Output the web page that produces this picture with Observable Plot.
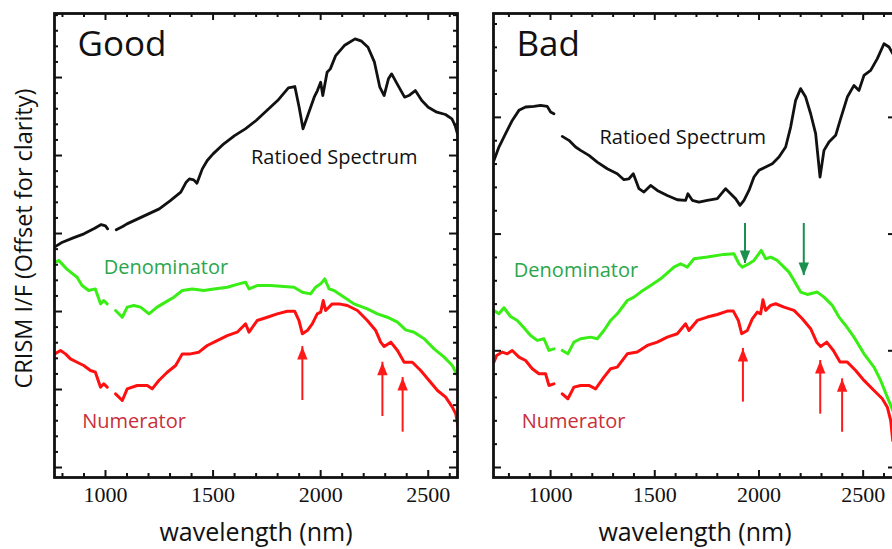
<!DOCTYPE html>
<html><head><meta charset="utf-8">
<script src="https://cdn.jsdelivr.net/npm/d3@7"></script>
<script src="https://cdn.jsdelivr.net/npm/@observablehq/plot@0.6"></script>
<style>
html,body{margin:0;padding:0;background:#fff;overflow:hidden;}
#chart{position:relative;width:892px;height:549px;overflow:hidden;}
#chart svg{position:absolute;top:0;}
</style></head><body><div id="chart"></div>
<script>
// ---- data: [wavelength nm, I/F offset (arbitrary units, 1 = major tick)] ; NaN = detector gap
const goodRatio = [[763,2.825],[800,2.889],[850,2.944],[900,2.996],[950,3.068],[980,3.115],[1000,3.098],[1010,3.06],[1030,NaN],[1050,3.047],[1080,3.09],[1100,3.124],[1150,3.188],[1200,3.252],[1250,3.316],[1300,3.419],[1350,3.53],[1375,3.658],[1390,3.701],[1410,3.688],[1425,3.645],[1450,3.829],[1473,3.936],[1500,4.021],[1550,4.15],[1600,4.256],[1650,4.342],[1700,4.449],[1750,4.577],[1800,4.705],[1850,4.868],[1880,4.885],[1900,4.62],[1918,4.342],[1940,4.513],[1970,4.748],[1985,4.833],[2000,4.94],[2010,4.769],[2030,5.068],[2045,5.111],[2070,5.282],[2110,5.41],[2160,5.496],[2190,5.466],[2220,5.389],[2250,5.197],[2275,4.876],[2295,4.769],[2315,4.983],[2330,5.047],[2360,4.897],[2390,4.748],[2410,4.769],[2440,4.833],[2470,4.705],[2500,4.62],[2540,4.556],[2580,4.526],[2610,4.47],[2625,4.385],[2636,4.278]];
const goodDen = [[764,2.632],[783,2.654],[798,2.611],[822,2.54],[845,2.49],[868,2.44],[891,2.333],[922,2.269],[953,2.29],[977,2.098],[992,2.141],[1008,2.098],[1028,NaN],[1047,2.013],[1078,1.927],[1101,2.056],[1132,2.077],[1163,2.056],[1202,1.97],[1240,2.056],[1279,2.12],[1318,2.184],[1357,2.269],[1403,2.29],[1457,2.269],[1504,2.29],[1566,2.312],[1620,2.355],[1651,2.376],[1667,2.29],[1705,2.333],[1767,2.333],[1829,2.32],[1876,2.312],[1915,2.248],[1953,2.226],[1977,2.312],[2000,2.355],[2019,2.419],[2039,2.29],[2062,2.269],[2109,2.184],[2155,2.098],[2217,2.034],[2264,1.97],[2310,1.927],[2357,1.863],[2395,1.765],[2434,1.735],[2481,1.65],[2527,1.521],[2574,1.415],[2612,1.308],[2639,1.158]];
const goodNum = [[764,1.457],[791,1.5],[814,1.457],[837,1.393],[868,1.35],[899,1.308],[930,1.244],[953,1.222],[977,1.03],[992,1.073],[1008,1.03],[1028,NaN],[1047,0.944],[1078,0.859],[1101,1.009],[1147,1.051],[1194,1.051],[1217,1.009],[1248,1.115],[1287,1.222],[1326,1.308],[1357,1.457],[1395,1.457],[1434,1.479],[1473,1.564],[1519,1.628],[1566,1.692],[1612,1.735],[1651,1.842],[1667,1.735],[1705,1.885],[1752,1.927],[1798,1.97],[1845,2.004],[1879,2.004],[1899,1.885],[1915,1.714],[1938,1.756],[1961,1.842],[1984,1.97],[2000,1.991],[2012,2.141],[2023,2.013],[2054,2.098],[2085,2.098],[2124,2.077],[2171,2.013],[2217,1.885],[2256,1.756],[2279,1.607],[2295,1.551],[2326,1.607],[2357,1.5],[2388,1.35],[2426,1.35],[2465,1.244],[2504,1.115],[2543,0.987],[2581,0.902],[2612,0.774],[2628,0.688],[2639,0.517]];

const badRatio = [[728,2.631],[752,2.746],[784,2.86],[816,2.974],[848,3.06],[880,3.089],[920,3.094],[952,3.103],[984,3.094],[1000,3.046],[1016,3.031],[1036,NaN],[1056,2.837],[1088,2.803],[1120,2.746],[1144,2.717],[1184,2.674],[1224,2.617],[1272,2.56],[1320,2.517],[1352,2.466],[1376,2.474],[1397,2.517],[1424,2.389],[1448,2.36],[1480,2.417],[1512,2.374],[1560,2.331],[1608,2.294],[1648,2.289],[1659,2.346],[1680,2.289],[1712,2.274],[1752,2.289],[1800,2.303],[1840,2.389],[1864,2.346],[1888,2.303],[1909,2.246],[1928,2.289],[1952,2.374],[1976,2.489],[2000,2.546],[2032,2.574],[2064,2.603],[2096,2.66],[2128,2.746],[2152,2.917],[2176,3.146],[2200,3.246],[2224,3.174],[2248,3.031],[2272,2.86],[2293,2.489],[2312,2.717],[2336,2.789],[2368,2.846],[2392,2.989],[2424,3.174],[2456,3.274],[2480,3.231],[2504,3.36],[2536,3.403],[2568,3.503],[2600,3.631],[2624,3.603],[2642,3.546]];
const badDen = [[728,1.346],[752,1.317],[776,1.369],[808,1.294],[840,1.26],[872,1.197],[904,1.131],[936,1.089],[968,1.103],[992,1.003],[1016,1.017],[1036,NaN],[1056,1.003],[1083,0.974],[1112,1.074],[1144,1.103],[1192,1.117],[1224,1.103],[1256,1.174],[1288,1.26],[1320,1.317],[1368,1.431],[1400,1.46],[1432,1.503],[1480,1.56],[1528,1.617],[1592,1.717],[1624,1.746],[1656,1.717],[1688,1.789],[1752,1.803],[1832,1.826],[1880,1.831],[1904,1.746],[1920,1.717],[1952,1.746],[1976,1.774],[2011,1.86],[2032,1.789],[2056,1.803],[2088,1.774],[2120,1.717],[2144,1.674],[2168,1.603],[2200,1.503],[2232,1.483],[2280,1.503],[2312,1.46],[2352,1.389],[2384,1.289],[2416,1.217],[2456,1.117],[2504,0.974],[2552,0.86],[2584,0.746],[2616,0.603],[2642,0.489]];
const badNum = [[728,0.903],[741,0.96],[768,0.989],[792,0.974],[816,1.003],[848,0.946],[880,0.917],[912,0.846],[944,0.803],[976,0.803],[992,0.703],[1016,0.717],[1036,NaN],[1056,0.631],[1083,0.589],[1112,0.689],[1144,0.703],[1184,0.703],[1216,0.674],[1256,0.774],[1288,0.846],[1320,0.86],[1368,0.974],[1416,0.989],[1464,1.046],[1512,1.074],[1560,1.117],[1608,1.146],[1648,1.231],[1664,1.174],[1704,1.26],[1752,1.289],[1800,1.311],[1848,1.34],[1877,1.34],[1901,1.26],[1917,1.146],[1944,1.174],[1968,1.274],[1992,1.331],[2008,1.317],[2019,1.437],[2032,1.346],[2056,1.389],[2080,1.403],[2120,1.374],[2168,1.346],[2208,1.274],[2248,1.189],[2277,1.074],[2296,1.037],[2325,1.074],[2357,1.003],[2389,0.903],[2424,0.903],[2464,0.831],[2504,0.746],[2552,0.66],[2592,0.589],[2616,0.517],[2632,0.403],[2642,0.231]];

// arrows: wavelength, tail value, tip value
const goodRedArrows = [[1915,0.859,1.551],[2287,0.654,1.35],[2381,0.453,1.154]];
const badRedArrows = [[1923,0.56,1.02],[2294,0.457,0.917],[2399,0.302,0.76]];
const badGreenArrows = [[1933,2.091,1.748],[2215,2.091,1.645]];

// annotations: text, wavelength, value
const goodLabels = [["Ratioed Spectrum",2063,3.968],["Denominator",1281,2.558],["Numerator",1133,0.59]];
const badLabels = [["Ratioed Spectrum",1634,2.823],["Denominator",1122,1.688],["Numerator",1110,0.394]];

const xTickLabels = [1000,1500,2000,2500];
const xMajor = [1000,1500,2000,2500];
const xMinor = [800,900,1100,1200,1300,1400,1600,1700,1800,1900,2100,2200,2300,2400,2600];
const panelTitles = ["Good","Bad"];
const xTitle = "wavelength (nm)";
const yTitle = "CRISM I/F (Offset for clarity)";

// ---- styling
const C = {ratio:"#111111", den:"#38ee14", num:"#ff1010", denText:"#2aa64c", numText:"#c8303a", greenArrow:"#1b8f4c", redArrow:"#ff1a1a"};
const headSymbol = {draw(ctx, size){ const r = Math.sqrt(size/Math.PI); ctx.moveTo(0,0); ctx.lineTo(0.4*r, r); ctx.lineTo(-0.4*r, r); ctx.closePath(); }};

function panel(o){
  const W = 460, H = 549, mL = 54, mR = 3, mT = 13, mB = 72;
  const iW = W - mL - mR, iH = H - mT - mB;
  const pts = a => a.map(([w,v]) => ({w, v}));
  const arr = a => a.map(([w,b,t]) => ({w, b, t}));
  const yMajor = d3.range(0, Math.floor(o.yDomain[1]) + 1);
  const yMinor = d3.range(0, o.yDomain[1], 0.2).filter(v => Math.abs(v - Math.round(v)) > 1e-6);
  const tk = {stroke:"#111", strokeWidth:2};
  const marks = [
    Plot.line(pts(o.ratio), {x:"w", y:"v", stroke:C.ratio, strokeWidth:2.8, clip:true}),
    Plot.line(pts(o.den), {x:"w", y:"v", stroke:C.den, strokeWidth:3, clip:true}),
    Plot.line(pts(o.num), {x:"w", y:"v", stroke:C.num, strokeWidth:3, clip:true}),
    Plot.ruleX(arr(o.red), {x:"w", y1:"b", y2:"t", stroke:C.redArrow, strokeWidth:2}),
    Plot.dot(arr(o.red), {x:"w", y:"t", symbol:headSymbol, r:13, fill:C.redArrow, stroke:null}),
  ];
  if (o.green) marks.push(
    Plot.ruleX(arr(o.green), {x:"w", y1:"b", y2:"t", stroke:C.greenArrow, strokeWidth:2}),
    Plot.dot(arr(o.green), {x:"w", y:"t", symbol:headSymbol, r:13, rotate:180, fill:C.greenArrow, stroke:null})
  );
  const [r, dn, nu] = o.labels;
  const yBottom = o.yDomain[0];
  marks.push(
    Plot.text([r], {x:d=>d[1], y:d=>d[2], text:d=>d[0], fill:"#111", fontSize:20}),
    Plot.text([dn], {x:d=>d[1], y:d=>d[2], text:d=>d[0], fill:C.denText, fontSize:20}),
    Plot.text([nu], {x:d=>d[1], y:d=>d[2], text:d=>d[0], fill:C.numText, fontSize:20}),
    Plot.text([o.title], {frameAnchor:"top-left", dx:23, dy:18, textAnchor:"start", lineAnchor:"top", fontSize:35, fill:"#111"}),
    // inward ticks on all four sides
    Plot.tickX(xMinor, {x:d=>d, insetTop:iH-4, ...tk}),
    Plot.tickX(xMajor, {x:d=>d, insetTop:iH-7, ...tk}),
    Plot.tickX(xMinor, {x:d=>d, insetBottom:iH-4, ...tk}),
    Plot.tickX(xMajor, {x:d=>d, insetBottom:iH-7, ...tk}),
    Plot.tickY(yMinor, {y:d=>d, insetRight:iW-4, ...tk}),
    Plot.tickY(yMajor, {y:d=>d, insetRight:iW-8, ...tk}),
    Plot.tickY(yMinor, {y:d=>d, insetLeft:iW-4, ...tk}),
    Plot.tickY(yMajor, {y:d=>d, insetLeft:iW-8, ...tk}),
    Plot.frame({stroke:"#111", strokeWidth:2.8}),
    Plot.text(xTickLabels, {x:d=>d, y:()=>yBottom, text:d=>String(d), lineAnchor:"top", textAnchor:"middle", dy:9, fontFamily:"'Liberation Serif', 'Times New Roman', serif", fontSize:22, fill:"#111"}),
    Plot.text([xTitle], {frameAnchor:"bottom", lineAnchor:"top", textAnchor:"middle", dy:46, fontSize:25, fill:"#111"})
  );
  if (o.yTitle) marks.push(Plot.text([o.yTitle], {frameAnchor:"left", textAnchor:"middle", lineAnchor:"middle", dx:-30, dy:-7, rotate:-90, fontSize:23.5, fill:"#111"}));
  const svg = Plot.plot({
    width:W, height:H, marginLeft:mL, marginRight:mR, marginTop:mT, marginBottom:mB,
    style:{fontFamily:"'Open Sans', sans-serif", background:"transparent", overflow:"visible"},
    x:{domain:o.xDomain, axis:null},
    y:{domain:o.yDomain, axis:null},
    marks
  });
  svg.style.left = o.left + "px";
  return svg;
}

const chart = document.getElementById("chart");
chart.appendChild(panel({ratio:goodRatio, den:goodDen, num:goodNum, red:goodRedArrows, green:null, labels:goodLabels,
  title:panelTitles[0], xDomain:[763,2636], yDomain:[-0.128,5.821], left:0, yTitle}));
chart.appendChild(panel({ratio:badRatio, den:badDen, num:badNum, red:badRedArrows, green:badGreenArrows, labels:badLabels,
  title:panelTitles[1], xDomain:[726,2660], yDomain:[-0.0857,3.89], left:439}));
</script></body></html>
